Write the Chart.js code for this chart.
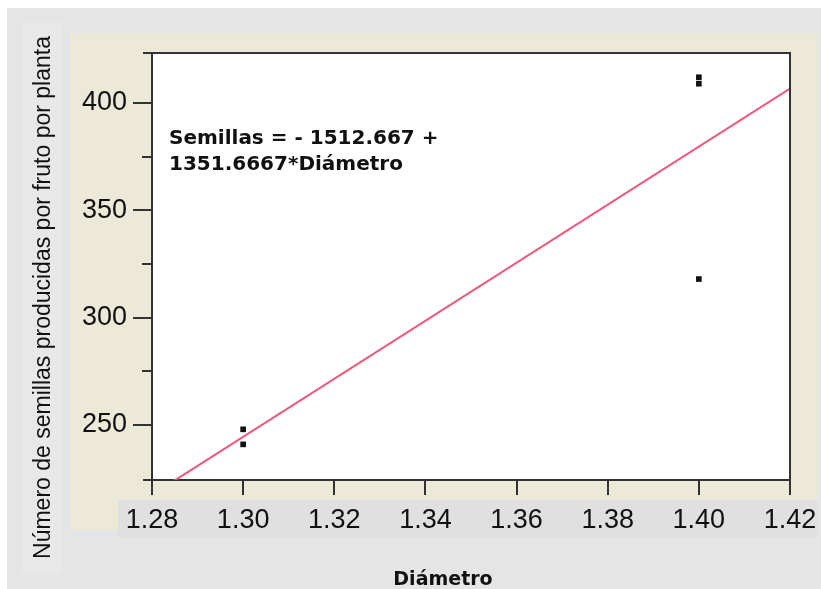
<!DOCTYPE html>
<html>
<head>
<meta charset="utf-8">
<title>Semillas vs Diámetro</title>
<script src="https://cdn.jsdelivr.net/npm/chart.js@4.4.1/dist/chart.umd.min.js"></script>
<style>
  html, body { margin: 0; padding: 0; background: #ffffff; }
  #wrap { width: 821px; height: 589px; }
  canvas { display: block; }
</style>
</head>
<body>
<div id="wrap"><canvas id="grafico" width="821" height="589"></canvas></div>
<script>
// Observaciones: diámetro del fruto y semillas producidas por fruto
const diametro = [1.30, 1.30, 1.40, 1.40, 1.40];
const semillas = [248, 241, 412, 409, 318];

// Recta de regresión ajustada
const intercepto = -1512.667;
const pendiente = 1351.6667;

// Ejes
const xTicks = [1.28, 1.30, 1.32, 1.34, 1.36, 1.38, 1.40, 1.42];
const yTicks = [250, 300, 350, 400];
const yTicksMenores = [275, 325, 375];
const xRango = [1.28, 1.42];
const yRango = [224.4, 423.3];

const tituloY = 'Número de semillas producidas por fruto por planta';
const tituloX = 'Diámetro';
const ecuacion = [
  'Semillas = - ' + Math.abs(intercepto).toFixed(3) + ' +',
  pendiente.toFixed(4) + '*Diámetro'
];

const puntos = diametro.map((d, i) => ({ x: d, y: semillas[i] }));
const recta = xRango.map(d => ({ x: d, y: intercepto + pendiente * d }));

const TINTA = '#333333';
const FUENTE = '"Liberation Sans", Arial, sans-serif';

// Fondo: marco gris, panel beige y franja de etiquetas
const fondo = {
  id: 'fondo',
  beforeDraw(chart) {
    const c = chart.ctx;
    c.save();
    c.fillStyle = '#ffffff';
    c.fillRect(0, 0, chart.width, chart.height);
    c.fillStyle = '#e5e5e5';
    c.fillRect(7, 8, chart.width - 7, chart.height - 8);
    c.fillStyle = '#e8e8e8';
    c.fillRect(22, 22, 40, 551);
    c.fillStyle = '#ece9d8';
    c.fillRect(70, 33, 747, 467);
    c.fillRect(70, 500, 48, 30);
    c.fillStyle = '#e0e0e0';
    c.fillRect(118, 500, 699, 37);
    const a = chart.chartArea;
    c.fillStyle = '#ffffff';
    c.fillRect(a.left, a.top, a.right - a.left, a.bottom - a.top);
    c.restore();
  }
};

// Marco superior/derecho, marcas menores del eje Y, títulos y ecuación
const marco = {
  id: 'marco',
  afterDraw(chart) {
    const c = chart.ctx;
    const a = chart.chartArea;
    const y = chart.scales.y;
    c.save();
    c.strokeStyle = TINTA;
    c.lineWidth = 2;
    c.beginPath();
    c.moveTo(a.left - 9, a.top);
    c.lineTo(a.right, a.top);
    c.lineTo(a.right, a.bottom);
    c.moveTo(a.left - 9, a.bottom);
    c.lineTo(a.left, a.bottom);
    yTicksMenores.forEach(v => {
      const py = Math.round(y.getPixelForValue(v));
      c.moveTo(a.left - 10, py);
      c.lineTo(a.left, py);
    });
    c.stroke();

    c.fillStyle = '#111111';
    c.textAlign = 'left';
    c.textBaseline = 'alphabetic';
    c.font = 'bold 20px "DejaVu Sans", sans-serif';
    c.fillText(ecuacion[0], a.left + 17, 144);
    c.fillText(ecuacion[1], a.left + 17, 170);

    c.textAlign = 'center';
    c.font = 'bold 19px "DejaVu Sans", sans-serif';
    c.fillText(tituloX, 443, 585);

    c.save();
    c.translate(44, 297.5);
    c.rotate(-Math.PI / 2);
    c.textAlign = 'center';
    c.textBaseline = 'middle';
    c.font = '23px ' + FUENTE;
    c.fillText(tituloY, 0, 0);
    c.restore();
    c.restore();
  }
};

new Chart(document.getElementById('grafico'), {
  type: 'scatter',
  data: {
    datasets: [
      {
        type: 'line',
        data: recta,
        borderColor: '#f0567a',
        borderWidth: 2,
        pointRadius: 0,
        fill: false,
        order: 1
      },
      {
        data: puntos,
        pointStyle: 'rect',
        pointRadius: 4,
        backgroundColor: '#111111',
        borderColor: '#111111',
        borderWidth: 0,
        order: 0
      }
    ]
  },
  options: {
    responsive: false,
    devicePixelRatio: 1,
    animation: false,
    events: [],
    layout: { padding: { left: 0, top: 53, right: 31, bottom: 47 } },
    plugins: {
      legend: { display: false },
      tooltip: { enabled: false },
      title: { display: false }
    },
    scales: {
      x: {
        type: 'linear',
        position: 'bottom',
        min: xRango[0],
        max: xRango[1],
        afterBuildTicks: s => { s.ticks = xTicks.map(v => ({ value: v })); },
        afterFit: s => { s.height = 62; s.paddingLeft = 0; s.paddingRight = 0; },
        ticks: {
          callback: v => Number(v).toFixed(2),
          color: '#111111',
          font: { family: FUENTE, size: 27 },
          padding: 9,
          maxRotation: 0,
          autoSkip: false
        },
        grid: { drawOnChartArea: false, drawTicks: true, tickLength: 15, tickWidth: 2, lineWidth: 2, tickColor: TINTA },
        border: { display: true, color: TINTA, width: 2 }
      },
      y: {
        type: 'linear',
        min: yRango[0],
        max: yRango[1],
        afterBuildTicks: s => { s.ticks = yTicks.map(v => ({ value: v })); },
        afterFit: s => { s.width = 152; s.paddingTop = 0; s.paddingBottom = 0; },
        ticks: {
          callback: v => String(v),
          color: '#111111',
          font: { family: FUENTE, size: 27 },
          padding: 6
        },
        grid: { drawOnChartArea: false, drawTicks: true, tickLength: 19, tickWidth: 2, lineWidth: 2, tickColor: TINTA },
        border: { display: true, color: TINTA, width: 2 }
      }
    }
  },
  plugins: [fondo, marco]
});
</script>
</body>
</html>
